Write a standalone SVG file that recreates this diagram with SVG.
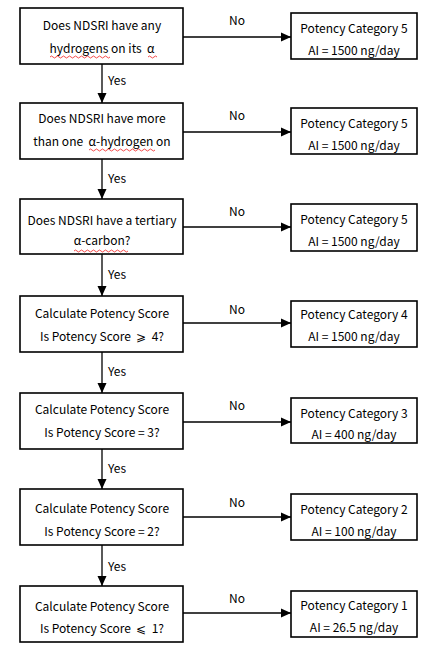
<svg xmlns="http://www.w3.org/2000/svg" width="436" height="660" viewBox="0 0 436 660" xml:space="preserve">
<defs>
<marker id="ah" markerWidth="10" markerHeight="10" refX="10" refY="5" orient="auto" markerUnits="userSpaceOnUse">
<path d="M0,0.5 L10,5 L0,9.5 Z" fill="#000"/>
</marker>
<style>
.box{fill:#fff;stroke:#000;stroke-width:1.6}
.t{font-family:"Noto Sans CJK SC","Noto Sans",sans-serif;font-size:12px;fill:#000;text-anchor:middle;white-space:pre}
.l{font-family:"Noto Sans CJK SC","Noto Sans",sans-serif;font-size:12px;fill:#000}
.c{stroke:#000;stroke-width:1.3;fill:none}
.sq{stroke:#e00;stroke-width:0.7;fill:none}
</style>
</defs>
<rect width="436" height="660" fill="#fff"/>
<g id="connectors">
<path class="c" d="M102,64 V103" marker-end="url(#ah)"/>
<path class="c" d="M102,159 V199" marker-end="url(#ah)"/>
<path class="c" d="M102,254 V296" marker-end="url(#ah)"/>
<path class="c" d="M102,352 V393" marker-end="url(#ah)"/>
<path class="c" d="M102,449 V489" marker-end="url(#ah)"/>
<path class="c" d="M102,545 V586" marker-end="url(#ah)"/>
<path class="c" d="M183,37 H291" marker-end="url(#ah)"/>
<path class="c" d="M183,132 H291" marker-end="url(#ah)"/>
<path class="c" d="M183,227 H291" marker-end="url(#ah)"/>
<path class="c" d="M183,323 H291" marker-end="url(#ah)"/>
<path class="c" d="M183,422 H291" marker-end="url(#ah)"/>
<path class="c" d="M183,517 H291" marker-end="url(#ah)"/>
<path class="c" d="M183,613 H291" marker-end="url(#ah)"/>
<text class="l" x="108" y="85">Yes</text>
<text class="l" x="108" y="183">Yes</text>
<text class="l" x="108" y="279">Yes</text>
<text class="l" x="108" y="376">Yes</text>
<text class="l" x="108" y="473">Yes</text>
<text class="l" x="108" y="571">Yes</text>
<text class="t" x="237" y="25">No</text>
<text class="t" x="237" y="120">No</text>
<text class="t" x="237" y="216">No</text>
<text class="t" x="237" y="314">No</text>
<text class="t" x="237" y="410">No</text>
<text class="t" x="237" y="507">No</text>
<text class="t" x="237" y="603">No</text>
</g>
<g id="q1">
<rect class="box" x="20" y="8" width="163" height="56"/>
<text class="t" x="102" y="30">Does NDSRI have any</text>
<text class="t" x="102" y="53">hydrogens on its  α</text>
<path class="sq" d="M50,57 q1.5,-2 3,0 t3,0 t3,0 t3,0 t3,0 t3,0 t3,0 t3,0 t3,0 t3,0 t3,0 t3,0 t3,0 t3,0 t3,0 t3,0 t3,0 t3,0 t3,0 t3,0"/>
<path class="sq" d="M148,57 q1.5,-2 3,0 t3,0 t3,0"/>
</g>
<g id="q2">
<rect class="box" x="20" y="103" width="163" height="56"/>
<text class="t" x="102" y="123">Does NDSRI have more</text>
<text class="t" x="102" y="146">than one  α-hydrogen on</text>
<path class="sq" d="M89,150 q1.5,-2 3,0 t3,0 t3,0 t3,0 t3,0 t3,0 t3,0 t3,0 t3,0 t3,0 t3,0 t3,0 t3,0 t3,0 t3,0 t3,0 t3,0 t3,0 t3,0 t3,0 t3,0 t3,0"/>
</g>
<g id="q3">
<rect class="box" x="20" y="199" width="163" height="55"/>
<text class="t" x="102" y="225">Does NDSRI have a tertiary</text>
<text class="t" x="102" y="245">α-carbon?</text>
<path class="sq" d="M74,251 q1.5,-2 3,0 t3,0 t3,0 t3,0 t3,0 t3,0 t3,0 t3,0 t3,0 t3,0 t3,0 t3,0 t3,0 t3,0 t3,0 t3,0 t3,0 t3,0"/>
</g>
<g id="q4">
<rect class="box" x="20" y="296" width="163" height="56"/>
<text class="t" x="102" y="318">Calculate Potency Score</text>
<text class="t" x="102" y="341">Is Potency Score  ⩾  4?</text>
</g>
<g id="q5">
<rect class="box" x="20" y="393" width="163" height="56"/>
<text class="t" x="102" y="414">Calculate Potency Score</text>
<text class="t" x="102" y="437">Is Potency Score = 3?</text>
</g>
<g id="q6">
<rect class="box" x="20" y="489" width="163" height="56"/>
<text class="t" x="102" y="513">Calculate Potency Score</text>
<text class="t" x="102" y="536">Is Potency Score = 2?</text>
</g>
<g id="q7">
<rect class="box" x="20" y="586" width="163" height="56"/>
<text class="t" x="102" y="611">Calculate Potency Score</text>
<text class="t" x="102" y="633">Is Potency Score  ⩽  1?</text>
</g>
<g id="r1">
<rect class="box" x="291" y="13" width="126" height="46"/>
<text class="t" x="354" y="33">Potency Category 5</text>
<text class="t" x="354" y="55">AI = 1500 ng/day</text>
</g>
<g id="r2">
<rect class="box" x="291" y="108" width="126" height="46"/>
<text class="t" x="354" y="128">Potency Category 5</text>
<text class="t" x="354" y="150">AI = 1500 ng/day</text>
</g>
<g id="r3">
<rect class="box" x="291" y="204" width="126" height="47"/>
<text class="t" x="354" y="224">Potency Category 5</text>
<text class="t" x="354" y="246">AI = 1500 ng/day</text>
</g>
<g id="r4">
<rect class="box" x="291" y="301" width="126" height="46"/>
<text class="t" x="354" y="319">Potency Category 4</text>
<text class="t" x="354" y="341">AI = 1500 ng/day</text>
</g>
<g id="r5">
<rect class="box" x="291" y="398" width="126" height="45"/>
<text class="t" x="354" y="418">Potency Category 3</text>
<text class="t" x="354" y="439">AI = 400 ng/day</text>
</g>
<g id="r6">
<rect class="box" x="291" y="494" width="126" height="46"/>
<text class="t" x="354" y="514">Potency Category 2</text>
<text class="t" x="354" y="536">AI = 100 ng/day</text>
</g>
<g id="r7">
<rect class="box" x="291" y="591" width="126" height="46"/>
<text class="t" x="354" y="610">Potency Category 1</text>
<text class="t" x="354" y="632">AI = 26.5 ng/day</text>
</g>
</svg>
